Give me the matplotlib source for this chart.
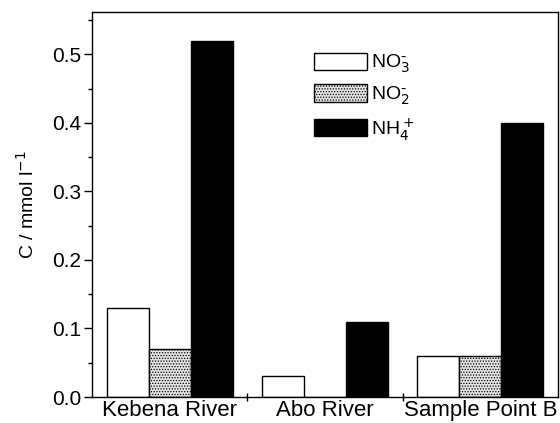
import numpy as np
import matplotlib.pyplot as plt

plt.rcParams['font.family'] = ['Liberation Sans', 'DejaVu Sans']
plt.rcParams['hatch.linewidth'] = 0.6

sites = ["Kebena River", "Abo River", "Sample Point B"]
no3 = [0.13, 0.03, 0.06]
no2 = [0.07, 0.0, 0.06]
nh4 = [0.52, 0.11, 0.40]

fig = plt.figure(figsize=(5.6, 4.23), dpi=100)
ax = fig.add_axes([92 / 560, 26 / 423, (558 - 92) / 560, (397 - 12) / 423])

x = np.arange(len(sites))
w = 0.27
ax.bar(x - w, no3, w, facecolor="white", edgecolor="black", lw=1.0, label="NO$_3^{\\bar{\\ }}$")
ax.bar(x, no2, w, facecolor="#e4e4e4", edgecolor="black", lw=1.0, hatch="......", label="NO$_2^{\\bar{\\ }}$")
ax.bar(x + w, nh4, w, facecolor="black", edgecolor="black", lw=1.0, label="NH$_4^+$")

ax.set_xlim(-0.5, 2.5)
ax.set_ylim(0, 0.562)
ax.set_yticks(np.arange(0, 0.51, 0.1))
ax.set_yticks(np.arange(0.05, 0.56, 0.1), minor=True)
ax.yaxis.set_major_formatter(plt.FormatStrFormatter("%.1f"))

ax.set_xticks(x)
ax.set_xticklabels(sites)
ax.set_xticks([0.5, 1.5], minor=True)
ax.tick_params(axis="x", which="major", length=0, labelsize=16, pad=2)
ax.tick_params(axis="x", which="minor", length=6, width=1.0, direction="inout")
ax.tick_params(axis="y", which="major", length=6, width=1.0, direction="out", labelsize=15, pad=2)
ax.tick_params(axis="y", which="minor", length=3, width=1.0, direction="out")
for s in ax.spines.values():
    s.set_linewidth(1.0)

ax.set_ylabel("C / mmol l$^{-1}$", fontsize=14, labelpad=10)

ax.legend(loc="upper left", bbox_to_anchor=(0.46, 0.915), frameon=False,
          fontsize=14, handlelength=2.7, handleheight=1.0, labelspacing=0.45,
          handletextpad=0.2, borderaxespad=0)

fig.savefig("out.png", dpi=100)
